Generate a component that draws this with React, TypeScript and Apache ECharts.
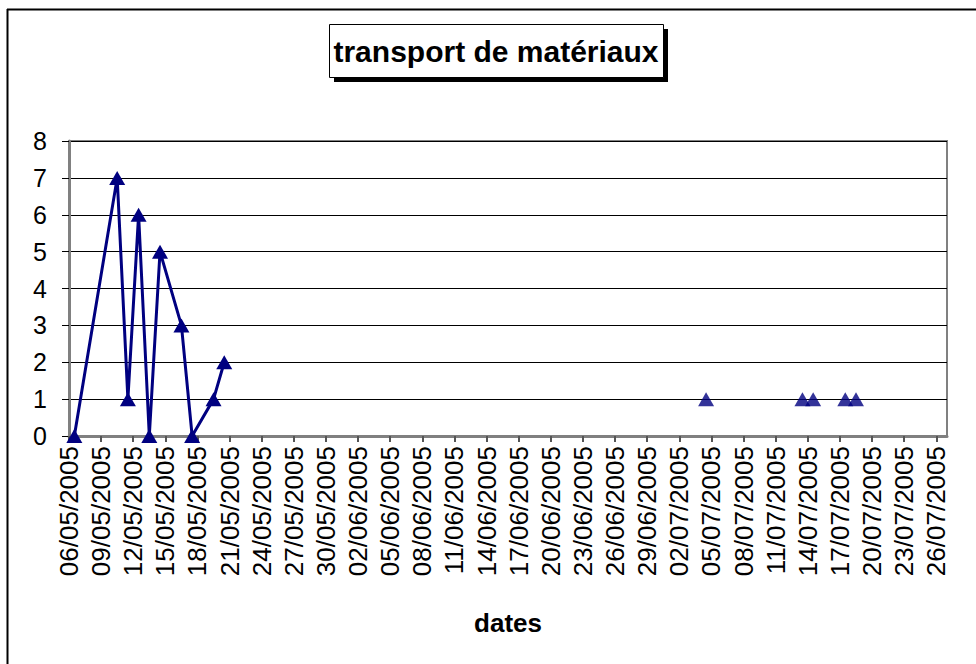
import React, { useEffect, useRef } from "react";
import * as echarts from "echarts";

const titleText = "transport de matériaux";
const xAxisTitle = "dates";
const axisStart = "06/05/2005";
const axisEnd = "27/07/2005";
const yTicks = [0, 1, 2, 3, 4, 5, 6, 7, 8];

const lineDates = [
  "06/05/2005", "10/05/2005", "11/05/2005", "12/05/2005", "13/05/2005",
  "14/05/2005", "16/05/2005", "17/05/2005", "19/05/2005", "20/05/2005",
];
const lineValues = [0, 7, 1, 6, 0, 5, 3, 0, 1, 2];

const isolatedDates = ["04/07/2005", "13/07/2005", "14/07/2005", "17/07/2005", "18/07/2005"];
const isolatedValues = [1, 1, 1, 1, 1];

const DAY = 86400000;
const parseDate = (s: string) => {
  const [d, m, y] = s.split("/").map(Number);
  return Date.UTC(y, m - 1, d);
};
const t0 = parseDate(axisStart);
const dayIndex = (s: string) => Math.round((parseDate(s) - t0) / DAY);
const fmt = (idx: number) => {
  const dt = new Date(t0 + idx * DAY);
  const dd = String(dt.getUTCDate()).padStart(2, "0");
  const mm = String(dt.getUTCMonth() + 1).padStart(2, "0");
  return `${dd}/${mm}/${dt.getUTCFullYear()}`;
};

export default function App() {
  const ref = useRef<HTMLDivElement>(null);
  useEffect(() => {
    if (!ref.current) return;
    const chart = echarts.init(ref.current, undefined, { renderer: "svg" });
    const font = "Liberation Sans, Arial, sans-serif";
    const navy = "#000080";
    chart.setOption({
      animation: false,
      backgroundColor: "#ffffff",
      textStyle: { fontFamily: font },
      grid: {
        left: 69,
        top: 141,
        width: 878,
        height: 295,
        show: true,
        borderColor: "#808080",
        borderWidth: 2,
        backgroundColor: "#ffffff",
      },
      xAxis: {
        type: "value",
        min: 0,
        max: dayIndex(axisEnd),
        interval: 3,
        name: xAxisTitle,
        nameLocation: "middle",
        nameGap: 174,
        nameTextStyle: { fontSize: 26, fontWeight: "bold", color: "#000", fontFamily: font },
        axisLine: { show: true, lineStyle: { color: "#808080", width: 3 } },
        axisTick: { show: true, length: 6, lineStyle: { color: "#555", width: 2 } },
        splitLine: { show: false },
        axisLabel: {
          rotate: 90,
          margin: 10,
          fontSize: 26,
          color: "#000",
          fontFamily: font,
          padding: [10, 0, 0, 0],
          showMaxLabel: false,
          formatter: (v: number) => (v % 3 === 0 && v <= 81 ? fmt(v) : ""),
        },
      },
      yAxis: {
        type: "value",
        min: yTicks[0],
        max: yTicks[yTicks.length - 1],
        interval: 1,
        axisLine: { show: true, lineStyle: { color: "#808080", width: 3 } },
        axisTick: { show: true, length: 7, lineStyle: { color: "#000", width: 1 } },
        splitLine: { show: true, lineStyle: { color: "#000", width: 1 } },
        axisLabel: { margin: 22, fontSize: 25, color: "#000", fontFamily: font },
      },
      series: [
        {
          type: "line",
          data: lineDates.map((d, i) => [dayIndex(d) + 0.5, lineValues[i]]),
          symbol: "triangle",
          symbolSize: [16, 14],
          showAllSymbol: true,
          lineStyle: { color: navy, width: 3 },
          itemStyle: { color: navy },
          z: 5,
        },
        {
          type: "scatter",
          data: isolatedDates.map((d, i) => [dayIndex(d) + 0.5, isolatedValues[i]]),
          symbol: "triangle",
          symbolSize: [16, 14],
          itemStyle: { color: navy },
          z: 5,
        },
      ],
      graphic: [
        { type: "line", shape: { x1: 7.5, y1: 9, x2: 7.5, y2: 664 }, style: { stroke: "#000", lineWidth: 2 } },
        { type: "line", shape: { x1: 7, y1: 9.5, x2: 976, y2: 9.5 }, style: { stroke: "#000", lineWidth: 2 } },
        { type: "rect", shape: { x: 334, y: 29, width: 334, height: 53 }, style: { fill: "#000" } },
        { type: "rect", shape: { x: 329.5, y: 24.5, width: 334, height: 53 }, style: { fill: "#fff", stroke: "#000", lineWidth: 1 } },
        {
          type: "text",
          x: 496,
          y: 51,
          style: {
            text: titleText,
            font: `bold 30px ${font}`,
            fill: "#000",
            align: "center",
            verticalAlign: "middle",
          },
        },
      ],
    });
    return () => chart.dispose();
  }, []);
  return (
    <div
      ref={ref}
      style={{ position: "fixed", left: 0, top: 0, width: 976, height: 664, background: "#fff" }}
    />
  );
}
